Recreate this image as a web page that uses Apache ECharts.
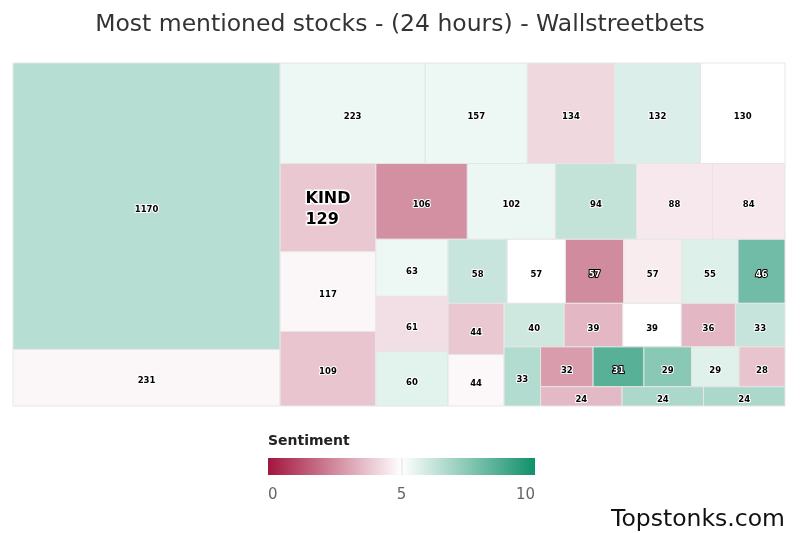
<!DOCTYPE html>
<html><head><meta charset="utf-8">
<script src="https://cdn.jsdelivr.net/npm/echarts@6/dist/echarts.min.js"></script>
<style>html,body{margin:0;padding:0;background:#fff}#c{width:800px;height:533px}</style>
</head><body><div id="c"></div>
<script>
// ---- Data ----
const tickers = ['', '', '', '', '', '', '', 'KIND', '', '', '', '', '', '', '', '', '', '', '', '', '', '', '', '', '', '', '', '', '', '', '', '', '', '', '', '', '', '', '', ''];
const mentions = [1170, 231, 223, 157, 134, 132, 130, 129, 117, 109, 106, 102, 94, 88, 84, 63, 61, 60, 58, 57, 57, 57, 55, 46, 44, 44, 40, 39, 39, 36, 33, 33, 32, 31, 29, 29, 28, 24, 24, 24];
const sentiment = [6.5, 4.8, 5.38, 5.38, 4.17, 5.75, 5.0, 3.82, 4.8, 3.76, 2.63, 5.4, 6.26, 4.5, 4.5, 5.38, 4.32, 5.6, 6.15, 5.0, 2.52, 4.6, 5.69, 8.0, 3.82, 4.85, 6.03, 3.48, 5.0, 3.47, 6.2, 6.59, 2.88, 8.5, 7.5, 5.65, 3.74, 3.5, 6.74, 6.74];
const scaleTicks = [0, 5, 10];
const scaleColors = ['#a3153d', '#ffffff', '#10906a'];

// ---- Squarified layout with alternating strips (computed from the values) ----
function GroupArea(width, height, direction, plot) {
  this.height = height; this.width = width; this.plot = plot; this.direction = direction;
  this.total = 0; this.nW = 0; this.lW = 0; this.nH = 0; this.lH = 0; this.elArr = [];
  this.lP = { total: 0, lH: 0, nH: 0, lW: 0, nW: 0, nR: 0, lR: 0,
    aspectRatio: (w, h) => Math.max(w / h, h / w) };
}
GroupArea.prototype.addElement = function (el) {
  this.lP.total = this.elArr[this.elArr.length - 1];
  this.total += el;
  if (this.direction === 0) {
    this.lW = this.nW;
    this.lP.lH = this.lP.total / this.lW;
    this.lP.lR = this.lP.aspectRatio(this.lW, this.lP.lH);
    this.nW = this.total / this.height;
    this.lP.nH = this.lP.total / this.nW;
    this.lP.nR = this.lP.aspectRatio(this.nW, this.lP.nH);
  } else {
    this.lH = this.nH;
    this.lP.lW = this.lP.total / this.lH;
    this.lP.lR = this.lP.aspectRatio(this.lP.lW, this.lH);
    this.nH = this.total / this.width;
    this.lP.nW = this.lP.total / this.nH;
    this.lP.nR = this.lP.aspectRatio(this.lP.nW, this.nH);
  }
  this.elArr.push(el);
};
GroupArea.prototype.reset = function () { this.nW = 0; this.lW = 0; this.elArr = []; this.total = 0; };

function calcPoints(last, group, out) {
  let gW = group.lW, gH = group.lH, keep;
  const plot = group.plot, end = group.elArr.length - 1;
  if (last) { gW = group.nW; gH = group.nH; } else { keep = group.elArr[end]; }
  group.elArr.forEach((p, i) => {
    if (last || i < end) {
      let w, h;
      if (group.direction === 0) { w = gW; h = p / w; } else { h = gH; w = p / h; }
      out.push({ x: plot.x, y: plot.y, width: w, height: h });
      if (group.direction === 0) plot.y += h; else plot.x += w;
    }
  });
  group.reset();
  if (group.direction === 0) group.width -= gW; else group.height -= gH;
  plot.y = plot.parent.y + (plot.parent.height - group.height);
  plot.x = plot.parent.x + (plot.parent.width - group.width);
  group.direction = 1 - group.direction;
  if (!last) group.addElement(keep);
}
function squarified(rect, values) {
  const total = values.reduce((a, b) => a + b, 0);
  const plot = { x: rect.x, y: rect.y, parent: rect };
  const group = new GroupArea(rect.width, rect.height, 0, plot);
  const out = [];
  values.forEach((v, i) => {
    group.addElement(rect.width * rect.height * (v / total));
    if (group.lP.nR > group.lP.lR) calcPoints(false, group, out);
    if (i === values.length - 1) calcPoints(true, group, out);
  });
  return out;
}

const plotRect = { x: 13, y: 63, width: 772, height: 343 };
const cells = squarified(plotRect, mentions);

const measureCtx = document.createElement('canvas').getContext('2d');
function textWidth(t, font) { measureCtx.font = font; return measureCtx.measureText(t).width; }
function contrast(color) {
  const c = echarts.color.parse(color);
  return c[0] + c[1] * 1.2 + c[2] * 0.5 > 1.8 * 255 ? '#000000' : '#ffffff';
}

const chart = echarts.init(document.getElementById('c'), null, { renderer: 'canvas' });
const barL = 268, barR = 535, barT = 458, barH = 17;

chart.setOption({
  animation: false,
  title: {
    text: 'Most mentioned stocks - (24 hours) - Wallstreetbets',
    left: 'center', top: 8,
    textStyle: { fontFamily: 'DejaVu Sans', fontSize: 23.5, fontWeight: 'normal', color: '#333' }
  },
  visualMap: {
    type: 'continuous', show: false, min: 0, max: 10, dimension: 1, seriesIndex: 0,
    inRange: { color: scaleColors }
  },
  series: [{
    type: 'custom',
    coordinateSystem: 'none',
    data: mentions.map((m, i) => [m, sentiment[i], i]),
    renderItem: function (params, api) {
      const i = api.value(2);
      const r = cells[i];
      const fill = api.visual('color');
      const cx = r.x + r.width / 2, cy = r.y + r.height / 2;
      const txtColor = contrast(fill);
      const outline = txtColor === '#000000' ? '#ffffff' : '#000000';
      const children = [{
        type: 'rect',
        shape: { x: r.x, y: r.y, width: r.width, height: r.height },
        style: { fill: fill, stroke: '#e6e6e6', lineWidth: 1 }
      }];
      if (tickers[i]) {
        const font = 'bold 16px "DejaVu Sans"';
        const w = Math.max(textWidth(tickers[i], font), textWidth(String(mentions[i]), font));
        children.push({
          type: 'text',
          style: {
            text: tickers[i] + '\n' + mentions[i], x: cx - w / 2, y: cy + 1.5,
            align: 'left', verticalAlign: 'middle', lineHeight: 21,
            fontFamily: 'DejaVu Sans', fontSize: 16, fontWeight: 'bold',
            fill: txtColor, stroke: outline, lineWidth: 3
          }
        });
      } else {
        children.push({
          type: 'text',
          style: {
            text: String(mentions[i]), x: cx, y: cy + 3.5,
            align: 'center', verticalAlign: 'middle',
            fontFamily: 'DejaVu Sans', fontSize: 8.5, fontWeight: 'bold',
            fill: txtColor, stroke: outline, lineWidth: 2
          }
        });
      }
      return { type: 'group', children: children };
    }
  }],
  graphic: [
    { type: 'text', left: barL, top: 434, style: { text: 'Sentiment', fontFamily: 'DejaVu Sans', fontSize: 14, fontWeight: 'bold', fill: '#222' } },
    { type: 'rect', shape: { x: barL, y: barT, width: barR - barL, height: barH },
      style: { fill: new echarts.graphic.LinearGradient(0, 0, 1, 0,
        scaleColors.map((c, i) => ({ offset: i / (scaleColors.length - 1), color: c }))) } },
    { type: 'line', z: 100, shape: { x1: (barL + barR) / 2 + 0.5, y1: barT, x2: (barL + barR) / 2 + 0.5, y2: barT + barH }, style: { stroke: '#dddddd', lineWidth: 1 } },
    ...scaleTicks.map((t, i) => ({
      type: 'text', x: barL + (barR - barL) * t / 10, y: 495,
      style: { text: String(t), fontFamily: 'DejaVu Sans', fontSize: 15, fill: '#666',
        align: i === 0 ? 'left' : (i === scaleTicks.length - 1 ? 'right' : 'center'), verticalAlign: 'middle' }
    })),
    { type: 'text', right: 15, top: 508, style: { text: 'Topstonks.com', fontFamily: 'DejaVu Sans', fontSize: 23.5, fill: '#111' } }
  ]
});
</script></body></html>
